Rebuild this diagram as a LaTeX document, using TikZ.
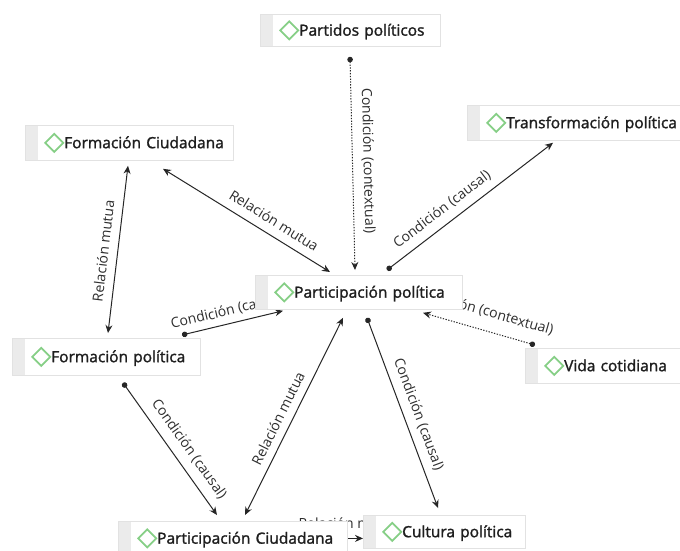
\documentclass[tikz,border=0pt]{standalone}
\usepackage{fontspec}
\setmainfont{Open Sans}
\newfontfamily\nodefont{Open Sans}[FakeBold=1.6]
\usetikzlibrary{arrows.meta,calc}
\pgfdeclarelayer{bg}
\pgfsetlayers{bg,main}
\definecolor{dgreen}{HTML}{86CF86}
\definecolor{boxline}{HTML}{E2E2E2}
\definecolor{stripc}{HTML}{EBEBEB}
\definecolor{txt}{HTML}{1E1E1E}
\definecolor{lblc}{HTML}{2E2E2E}
\newcommand{\dmd}{\tikz[baseline=-5.3pt]\draw[dgreen,line width=1.8pt,line join=miter] (-9pt,0pt)--(0pt,9pt)--(9pt,0pt)--(0pt,-9pt)--cycle;}
\tikzset{
  box/.style={draw=boxline, fill=white, line width=0.8pt, anchor=north west,
    inner xsep=0pt, inner ysep=0pt, align=left, text=txt,
    font=\nodefont\fontsize{15.5}{17}\selectfont,
    path picture={\fill[stripc] (path picture bounding box.north west) rectangle ([xshift=13pt]path picture bounding box.south west);}},
  conn/.style={line width=1pt, draw=black!85},
  tipa/.style={-{Stealth[length=8pt,width=7pt]}},
  dota/.style={{Circle[length=5.5pt]}-{Stealth[length=8pt,width=7pt]}},
  bia/.style={{Stealth[length=8pt,width=7pt]}-{Stealth[length=8pt,width=7pt]}},
  dots/.style={dash pattern=on 1.3pt off 1.5pt},
  lbl/.style={font=\fontsize{14}{16}\selectfont, text=lblc, sloped, above, inner xsep=0pt, inner ysep=#1},
  lbl/.default=8pt
}
\begin{document}
\begin{tikzpicture}[x=1pt,y=-1pt]
\useasboundingbox (0,0) rectangle (680,550);
% nodes
\node[box, text width=180pt, minimum height=32pt] (PP) at (260,14) {\hspace*{19pt}\dmd Partidos políticos};
\node[box, text width=208pt, minimum height=35pt] (FC) at (25,125) {\hspace*{19pt}\dmd Formación Ciudadana};
\node[box, text width=225pt, minimum height=35pt] (TP) at (467,105) {\hspace*{19pt}\dmd Transformación política};
\node[box, text width=207pt, minimum height=34pt] (PaP) at (255,275) {\hspace*{19pt}\dmd Participación política};
\node[box, text width=188pt, minimum height=37pt] (FP) at (12,338) {\hspace*{19pt}\dmd Formación política};
\node[box, text width=160pt, minimum height=35pt] (VC) at (525,348) {\hspace*{19pt}\dmd Vida cotidiana};
\node[box, text width=229pt, minimum height=34pt] (PC) at (118,521) {\hspace*{19pt}\dmd Participación Ciudadana};
\node[box, text width=162pt, minimum height=33pt] (CuP) at (363,515) {\hspace*{19pt}\dmd Cultura política};
% connectors
\begin{pgfonlayer}{bg}
\fill[white] (0,0) rectangle (680,550);
\draw[conn, dots, dota] ($(PP.south west)+(90,10)$) -- node[lbl=8.5pt, pos=0.49] {Condición (contextual)} ($(PaP.north west)+(100,-5)$);
\draw[conn, bia] ($(FC.south west)+(138,8)$) -- node[lbl=8.5pt, pos=0.62] {Relación mutua} ($(PaP.north west)+(75,-3)$);
\draw[conn, dota] ($(PaP.north west)+(132,-5)$) -- node[lbl=7.5pt, pos=0.385] {Condición (causal)} ($(TP.south west)+(86,2)$);
\draw[conn, bia] ($(FC.south west)+(103,5)$) -- node[lbl=8.5pt, pos=0.52] {Relación mutua} ($(FP.north west)+(96,-5)$);
\draw[conn, dota] ($(FP.north west)+(170,-3)$) -- node[lbl=5.5pt, pos=0.49] {Condición (causal)} ($(PaP.south west)+(28,1)$);
\draw[conn, dots, dota] ($(VC.north west)+(10,-3)$) -- node[lbl=11.5pt, pos=0.51] {Condición (contextual)} ($(PaP.south west)+(168,3)$);
\draw[conn, dota] ($(FP.south west)+(111,7)$) -- node[lbl=8.5pt, pos=0.57] {Condición (causal)} ($(PC.north west)+(99,-6)$);
\draw[conn, bia] ($(PC.north west)+(127,-6)$) -- node[lbl=7.5pt, pos=0.46] {Relación mutua} ($(PaP.south west)+(88,8)$);
\draw[conn, dota] ($(PaP.south west)+(112,8)$) -- node[lbl=7.5pt, pos=0.535] {Condición (causal)} ($(CuP.north west)+(75,-7)$);
\draw[conn, tipa] (PC.east) -- node[lbl=9pt, xshift=-6pt] {Relación mutua} (PC.east -| CuP.west);
\end{pgfonlayer}
\end{tikzpicture}
\end{document}
